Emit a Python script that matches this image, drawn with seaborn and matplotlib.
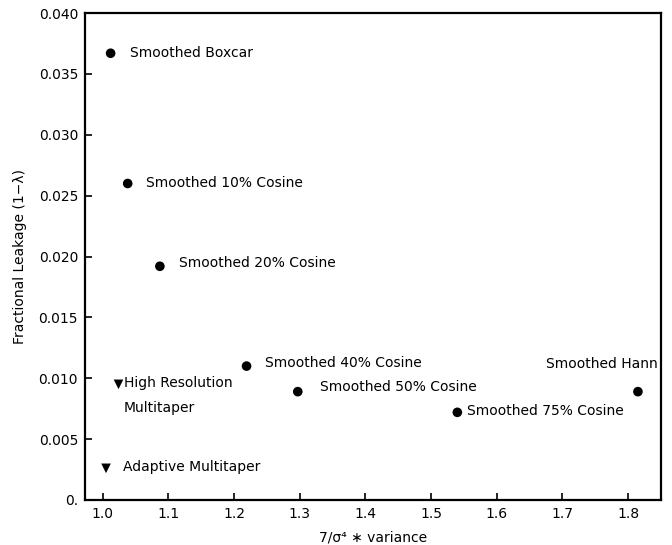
import matplotlib
matplotlib.use("Agg")
import matplotlib.pyplot as plt
import seaborn as sns
import pandas as pd

# Window families: variance ratio vs. fractional leakage
names = [
    "Smoothed Boxcar",
    "Smoothed 10% Cosine",
    "Smoothed 20% Cosine",
    "Smoothed 40% Cosine",
    "Smoothed 50% Cosine",
    "Smoothed 75% Cosine",
    "Smoothed Hann",
    "High Resolution\nMultitaper",
    "Adaptive Multitaper",
]
variance_ratio = [1.012, 1.038, 1.087, 1.219, 1.297, 1.540, 1.815, 1.024, 1.005]
leakage = [0.0367, 0.0260, 0.0192, 0.0110, 0.0089, 0.0072, 0.0089, 0.0095, 0.0026]
family = ["Smoothed"] * 7 + ["Multitaper"] * 2

x_ticks = [1.0, 1.1, 1.2, 1.3, 1.4, 1.5, 1.6, 1.7, 1.8]
y_ticks = [0.0, 0.005, 0.010, 0.015, 0.020, 0.025, 0.030, 0.035, 0.040]
y_tick_labels = ["0.", "0.005", "0.010", "0.015", "0.020", "0.025", "0.030", "0.035", "0.040"]

# label offsets in points (dx, dy) and alignment
offsets = [
    (14, 0, "left", "center"),
    (13, 0, "left", "center"),
    (14, 2, "left", "center"),
    (13, 2, "left", "center"),
    (16, 3, "left", "center"),
    (7, 1, "left", "center"),
    (14, 20, "right", "center"),
    (4, 6, "left", "top"),
    (12, 1, "left", "center"),
]

df = pd.DataFrame({"ratio": variance_ratio, "leakage": leakage, "family": family})

sns.set_theme(style="ticks")
plt.rcParams["font.family"] = ["DejaVu Sans"]

fig = plt.figure(figsize=(6.72, 5.45), dpi=100)
ax = fig.add_axes([0.1265, 0.0826, 0.857, 0.8934])

sns.scatterplot(
    data=df, x="ratio", y="leakage", style="family",
    markers={"Smoothed": "o", "Multitaper": "v"},
    color="black", s=48, edgecolor="black", linewidth=0,
    legend=False, ax=ax,
)

for name, xv, yv, (dx, dy, ha, va) in zip(names, variance_ratio, leakage, offsets):
    ax.annotate(name, (xv, yv), xytext=(dx, dy), textcoords="offset points",
                ha=ha, va=va, fontsize=10, color="black", linespacing=2.0)

ax.set_xlim(0.973, 1.850)
ax.set_ylim(0.0, 0.040)
ax.set_xticks(x_ticks)
ax.set_xticklabels([f"{v:.1f}" for v in x_ticks])
ax.set_yticks(y_ticks)
ax.set_yticklabels(y_tick_labels)
ax.tick_params(direction="in", length=5, width=1.2, labelsize=10, colors="black", pad=5)

for side in ["left", "right", "top", "bottom"]:
    ax.spines[side].set_visible(True)
    ax.spines[side].set_linewidth(1.6)
    ax.spines[side].set_color("black")

ax.set_xlabel("7/σ⁴ ∗ variance", fontsize=10, labelpad=7, color="black")
ax.set_ylabel("Fractional Leakage (1−λ)", fontsize=10, labelpad=8, color="black")

fig.savefig("out.png", dpi=100, facecolor="white")
